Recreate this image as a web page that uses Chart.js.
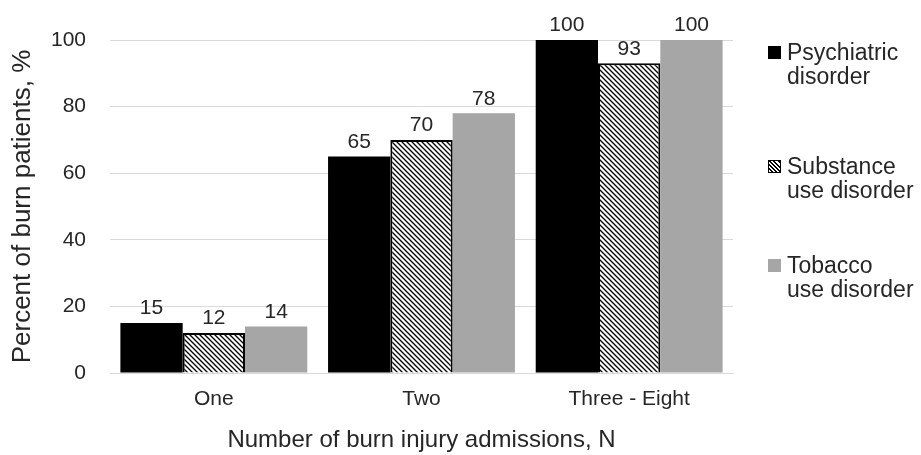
<!DOCTYPE html>
<html lang="en">
<head>
<meta charset="UTF-8">
<title>Burn injury admissions</title>
<script src="https://cdn.jsdelivr.net/npm/chart.js"></script>
<style>
    body { margin: 0; background: #fff; font-family: "Liberation Sans", Arial, sans-serif; }
    .wrap { position: relative; width: 921px; height: 455px; }
    .legend { position: absolute; left: 768px; top: 0; color: #262626; font-size: 23px; line-height: 24px; }
    .item { position: absolute; left: 0; width: 153px; }
    .box { position: absolute; left: 0; top: 6px; width: 13px; height: 13px; }
    .label { position: absolute; left: 19px; top: 0; white-space: nowrap; }
</style>
</head>
<body>
<div class="wrap">
    <canvas id="burnChart" width="921" height="455"></canvas>
    <div class="legend" id="legend"></div>
</div>
<script>
    const categories = ['One', 'Two', 'Three - Eight'];
    const psychiatric = [15, 65, 100];
    const substance = [12, 70, 93];
    const tobacco = [14, 78, 100];
    const seriesNames = [['Psychiatric', 'disorder'], ['Substance', 'use disorder'], ['Tobacco', 'use disorder']];
    const yTicks = [0, 20, 40, 60, 80, 100];

    const font = '"Liberation Sans", Arial, sans-serif';
    const textColor = '#262626';

    // diagonal hatch for substance use
    function makeHatch() {
        const c = document.createElement('canvas');
        c.width = 5; c.height = 5;
        const g = c.getContext('2d');
        g.fillStyle = '#fff';
        g.fillRect(0, 0, 5, 5);
        g.strokeStyle = '#000';
        g.lineWidth = 1.3;
        g.beginPath();
        g.moveTo(-1, -1); g.lineTo(6, 6);
        g.moveTo(-1, 4); g.lineTo(1, 6);
        g.moveTo(4, -1); g.lineTo(6, 1);
        g.stroke();
        return g.createPattern(c, 'repeat');
    }
    const hatch = makeHatch();

    const valueLabels = {
        id: 'valueLabels',
        afterDatasetsDraw(chart) {
            const ctx = chart.ctx;
            ctx.save();
            ctx.font = '21px ' + font;
            ctx.fillStyle = textColor;
            ctx.textAlign = 'center';
            ctx.textBaseline = 'bottom';
            chart.data.datasets.forEach((ds, i) => {
                chart.getDatasetMeta(i).data.forEach((bar, j) => {
                    ctx.fillText(ds.data[j], bar.x, bar.y - 4);
                });
            });
            ctx.restore();
        }
    };

    const colors = ['#000000', hatch, '#a6a6a6'];

    const chart = new Chart(document.getElementById('burnChart'), {
        type: 'bar',
        data: {
            labels: categories,
            datasets: [
                { label: seriesNames[0].join(' '), data: psychiatric, backgroundColor: colors[0], borderWidth: 0 },
                { label: seriesNames[1].join(' '), data: substance, backgroundColor: colors[1], borderColor: '#000', borderWidth: 2 },
                { label: seriesNames[2].join(' '), data: tobacco, backgroundColor: colors[2], borderWidth: 0 }
            ]
        },
        options: {
            responsive: false,
            animation: false,
            events: [],
            layout: { padding: { top: 40, right: 188, left: 4, bottom: 0 } },
            datasets: { bar: { categoryPercentage: 0.9, barPercentage: 1 } },
            plugins: {
                legend: { display: false },
                tooltip: { enabled: false }
            },
            scales: {
                x: {
                    grid: { display: false },
                    border: { color: '#d9d9d9', width: 1 },
                    ticks: { color: textColor, font: { family: font, size: 21 }, padding: 6 },
                    title: { display: true, text: 'Number of burn injury admissions, N', color: textColor,
                        font: { family: font, size: 24 }, padding: { top: 8, bottom: 0 } }
                },
                y: {
                    min: 0,
                    max: 100,
                    afterBuildTicks: axis => { axis.ticks = yTicks.map(v => ({ value: v })); },
                    afterFit: axis => { axis.width = 106; },
                    grid: { color: '#d9d9d9', drawTicks: false },
                    border: { display: false },
                    ticks: { color: textColor, font: { family: font, size: 21 }, padding: 24 },
                    title: { display: true, text: 'Percent of burn patients, %', color: textColor,
                        font: { family: font, size: 26 }, padding: { top: 3, bottom: 0 } }
                }
            }
        },
        plugins: [valueLabels]
    });

    // legend on the right
    const legendTops = [40, 154, 253];
    const legend = document.getElementById('legend');
    seriesNames.forEach((lines, i) => {
        const item = document.createElement('div');
        item.className = 'item';
        item.style.top = legendTops[i] + 'px';
        const box = document.createElement('span');
        box.className = 'box';
        if (i === 1) {
            box.style.border = '1.5px solid #000';
            box.style.boxSizing = 'border-box';
            box.style.background = 'repeating-linear-gradient(45deg, #fff 0 1.5px, #000 1.5px 3px)';
        } else {
            box.style.background = colors[i];
        }
        const label = document.createElement('span');
        label.className = 'label';
        label.innerHTML = lines.join('<br>');
        item.appendChild(box);
        item.appendChild(label);
        legend.appendChild(item);
    });
</script>
</body>
</html>
